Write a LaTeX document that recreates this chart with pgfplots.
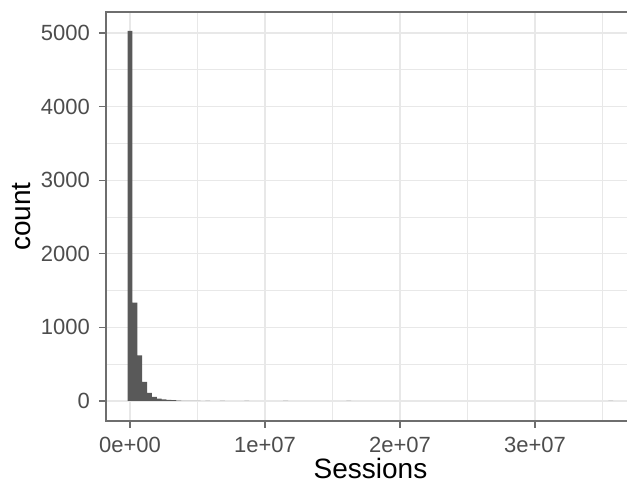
\documentclass[border=0pt]{standalone}
\usepackage{pgfplots}
\pgfplotsset{compat=1.18}
\usepackage{fontspec}
\setmainfont{Liberation Sans}
\definecolor{barfill}{RGB}{89,89,89}
\definecolor{gridc}{RGB}{232,232,232}
\definecolor{borderc}{RGB}{110,110,110}
\definecolor{tickc}{RGB}{77,77,77}
\begin{document}
\begin{tikzpicture}
\clip[use as bounding box] (-53pt,-33pt) rectangle (260.5pt,210.5pt);
\begin{axis}[
  at={(0,0)}, anchor=south west,
  scale only axis,
  width=264.5pt, height=204.5pt,
  xmin=-1.78, xmax=37.4,
  ymin=-272, ymax=5285,
  scaled x ticks=false, scaled y ticks=false,
  xtick={0,10,20,30},
  xticklabels={0e+00,1e+07,2e+07,3e+07},
  minor xtick={5,15,25,35},
  ytick={0,1000,2000,3000,4000,5000},
  yticklabels={0,1000,2000,3000,4000,5000},
  minor ytick={500,1500,2500,3500,4500},
  tick align=outside,
  major tick length=3.5pt,
  minor tick length=0pt,
  tick style={draw=borderc, line width=0.6pt},
  xtick pos=bottom, ytick pos=left,
  grid=both,
  major grid style={draw=gridc, line width=0.6pt},
  minor grid style={draw=gridc, line width=0.35pt},
  axis line style={draw=borderc, line width=1.1pt},
  ticklabel style={font=\fontsize{11}{13}\selectfont, text=tickc},
  xticklabel style={yshift=-1pt},
  yticklabel style={xshift=-1pt},
  xlabel={Sessions},
  ylabel={count},
  every axis x label/.style={at={(axis description cs:0.5,-0.117)}, anchor=center, font=\fontsize{14}{17}\selectfont, text=black},
  every axis y label/.style={at={(axis description cs:-0.159,0.5)}, rotate=90, anchor=center, font=\fontsize{14}{17}\selectfont, text=black},
]
% x in units of 1e6 sessions
\addplot[ybar, bar width=0.36, fill=barfill, draw=none] coordinates {
  (0,5030) (0.36,1335) (0.72,620) (1.08,260) (1.44,110)
  (1.80,55) (2.16,32) (2.52,22) (2.88,15) (3.24,12)
  (3.60,4) (3.96,3) (4.32,2) (4.68,2) (5.04,1)
  (5.76,1) (6.84,1) (8.64,1) (11.52,1) (16.2,1) (35.6,1)
};
\end{axis}
\end{tikzpicture}
\end{document}
